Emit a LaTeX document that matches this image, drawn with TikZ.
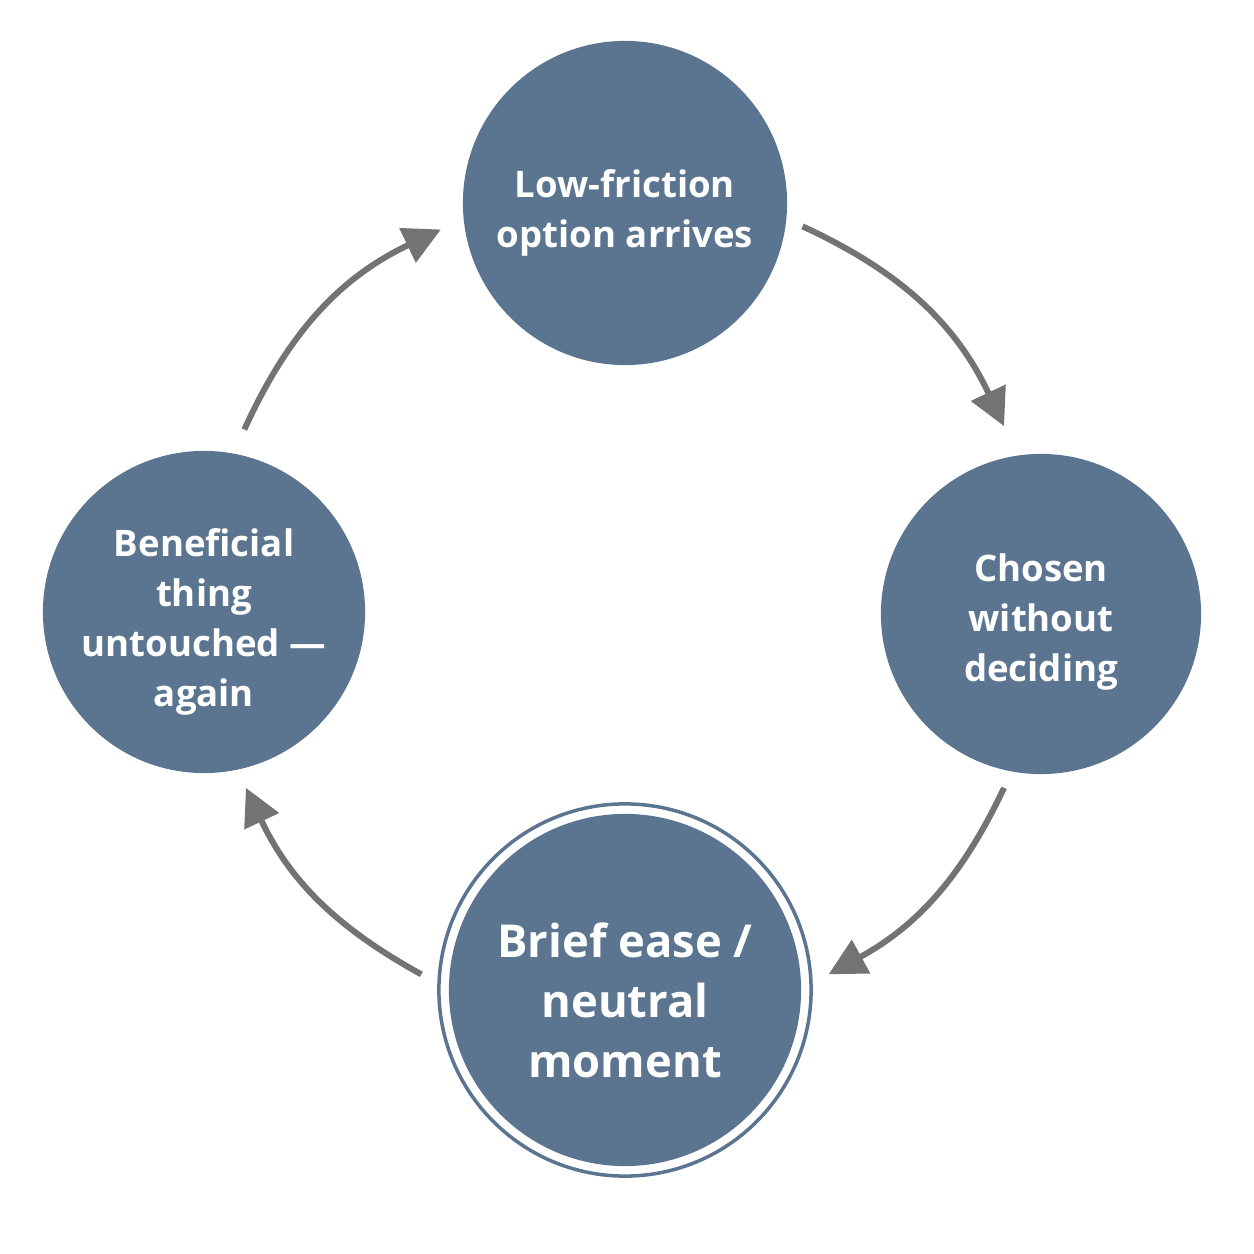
\documentclass[tikz,border=0pt]{standalone}
\usepackage{fontspec}
\setmainfont{Open Sans}
\usetikzlibrary{arrows.meta}
\definecolor{nodefill}{HTML}{5B7591}
\definecolor{arrowgray}{HTML}{737373}
\begin{document}
\begin{tikzpicture}[x=0.01cm,y=0.01cm,
  stage/.style={circle, fill=nodefill, inner sep=0pt, minimum size=3.24cm},
  stagetext/.style={text=white, font=\bfseries\fontsize{10.4}{14.2}\selectfont, align=center, inner sep=0pt},
  bigtext/.style={font=\bfseries\fontsize{12.9}{17.1}\selectfont},
  ringstyle/.style={circle, draw=nodefill, line width=0.035cm, inner sep=0pt, minimum size=3.72cm},
  arr/.style={draw=arrowgray, line width=0.06cm, -{Triangle[length=0.37cm,width=0.37cm]}}]
\useasboundingbox (0,0) rectangle (1254,1254);
\fill[white] (0,0) rectangle (1254,1254);
\node[stage] (top) at (625,1051) {};
\node[stage, minimum size=3.2cm] (right) at (1041,640) {};
\node[stage, minimum size=3.22cm] (left) at (204,642) {};
\node[ringstyle] (ring) at (625,264) {};
\node[stage, minimum size=3.52cm] (bottom) at (625,264) {};
\node[stagetext] (toptext) at ([yshift=-0.1cm]top) {Low-friction\\option arrives};
\node[stagetext] (righttext) at ([yshift=-0.08cm]right) {Chosen\\without\\deciding};
\node[stagetext] (lefttext) at ([yshift=-0.1cm]left) {Beneficial\\thing\\untouched —\\again};
\node[stagetext, bigtext] (bottomtext) at ([yshift=-0.1cm]bottom) {Brief ease /\\neutral\\moment};
\coordinate (c) at (625,647);
\coordinate (a1s) at ([shift={(65:420)}]c);
\coordinate (a1e) at ([shift={(25.5:420)}]c);
\coordinate (a2s) at ([shift={(-25.5:420)}]c);
\coordinate (a2e) at ([shift={(-61:420)}]c);
\coordinate (a3s) at ([shift={(241:420)}]c);
\coordinate (a3e) at ([shift={(205.5:420)}]c);
\coordinate (a4s) at ([shift={(155:420)}]c);
\coordinate (a4e) at ([shift={(116:420)}]c);
\draw[arr] (a1s) to[bend left=20] (a1e);
\draw[arr] (a2s) to[bend left=18] (a2e);
\draw[arr] (a3s) to[bend left=18] (a3e);
\draw[arr] (a4s) to[bend left=20] (a4e);
\end{tikzpicture}
\end{document}
